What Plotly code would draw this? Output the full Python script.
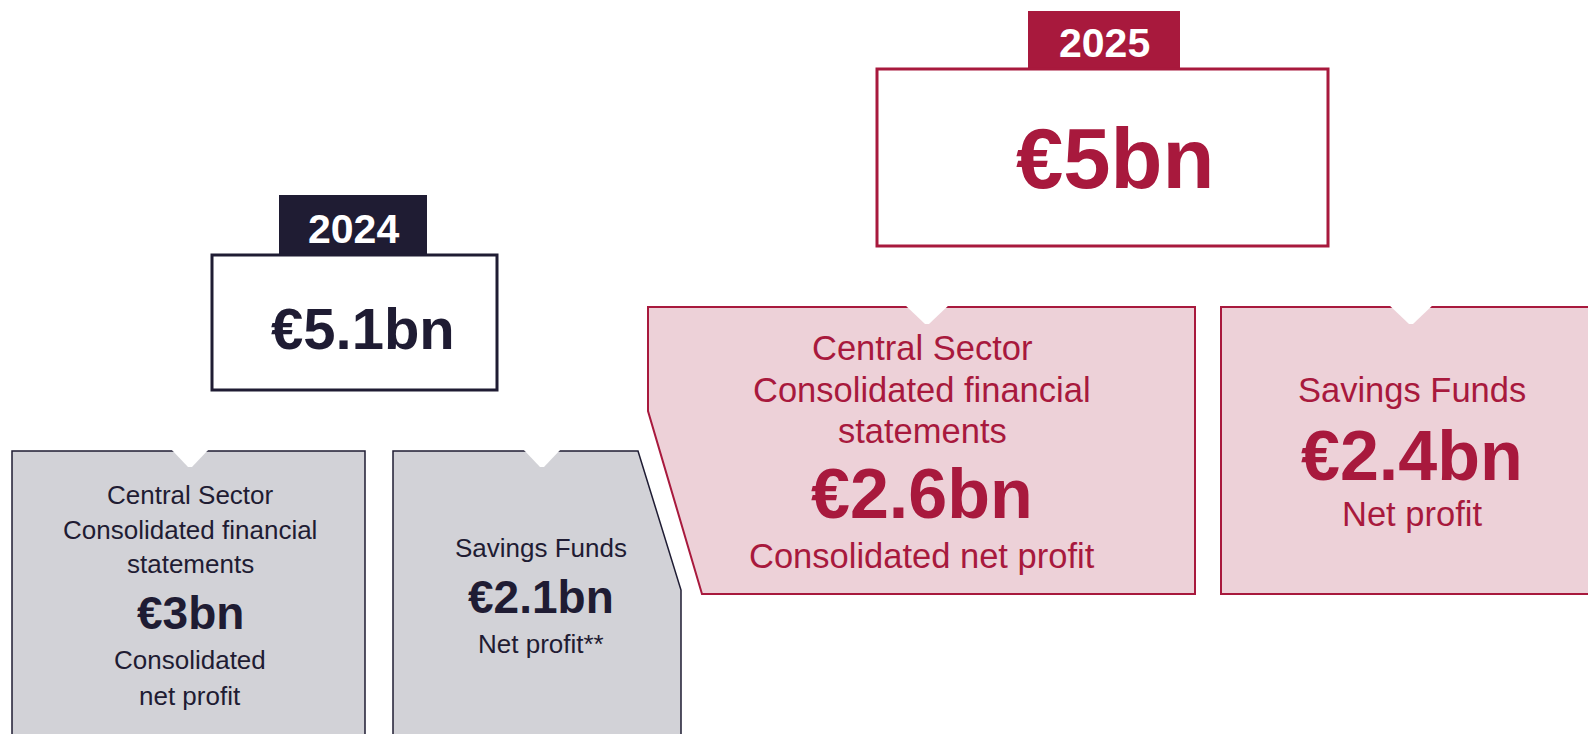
import plotly.graph_objects as go

# ---------------- data ----------------
years = ["2024", "2025"]
totals = ["€5.1bn", "€5bn"]
segment_titles = [
    ["Central Sector", "Consolidated financial", "statements"],
    ["Savings Funds"],
    ["Central Sector", "Consolidated financial", "statements"],
    ["Savings Funds"],
]
segment_values = ["€3bn", "€2.1bn", "€2.6bn", "€2.4bn"]
segment_notes = [
    ["Consolidated", "net profit"],
    ["Net profit**"],
    ["Consolidated net profit"],
    ["Net profit"],
]

# ---------------- styles ----------------
NAVY = "#1f1c33"
CRIMSON = "#a8193d"
PINK = "#edd1d8"
GREY = "#d2d2d7"
FONT = "Liberation Sans, Arial, sans-serif"
W, H = 1588, 734

fig = go.Figure()
fig.add_trace(go.Scatter(x=[0, W], y=[0, H], mode="markers",
                         marker=dict(opacity=0), hoverinfo="skip", showlegend=False))

shapes = []
annotations = []


def path(points):
    return "M " + " L ".join(f"{x},{y}" for x, y in points) + " Z"


def poly(points, fill, line, lw):
    shapes.append(dict(type="path", xref="x", yref="y", path=path(points),
                       fillcolor=fill, line=dict(color=line, width=lw), layer="above"))


def notch(cx, top, half=20, depth=16):
    shapes.append(dict(type="path", xref="x", yref="y",
                       path=path([(cx - half, top - 3), (cx + half, top - 3), (cx + 2, top + depth),
                                  (cx - 2, top + depth)]),
                       fillcolor="white", line=dict(width=0), layer="above"))


def text(x, y, s, size, color, bold=False):
    annotations.append(dict(x=x, y=y, xref="x", yref="y", text=(f"<b>{s}</b>" if bold else s),
                            showarrow=False, xanchor="center", yanchor="middle",
                            font=dict(family=FONT, size=size, color=color)))


# ---- 2024 header ----
tab24 = dict(x0=279, x1=427, y0=195, y1=256)
box24 = dict(x0=212, x1=497, y0=255, y1=390)
shapes.append(dict(type="rect", xref="x", yref="y", **tab24, fillcolor=NAVY, line=dict(width=0)))
shapes.append(dict(type="rect", xref="x", yref="y", **box24, fillcolor="white",
                   line=dict(color=NAVY, width=3)))
text(353, 229, years[0], 41, "white", True)
text(363, 328, totals[0], 58, NAVY, True)

# ---- 2025 header ----
tab25 = dict(x0=1028, x1=1180, y0=11, y1=70)
box25 = dict(x0=877, x1=1328, y0=69, y1=246)
shapes.append(dict(type="rect", xref="x", yref="y", **tab25, fillcolor=CRIMSON, line=dict(width=0)))
shapes.append(dict(type="rect", xref="x", yref="y", **box25, fillcolor="white",
                   line=dict(color=CRIMSON, width=3)))
text(1104, 43, years[1], 41, "white", True)
text(1115, 158, totals[1], 85, CRIMSON, True)

# ---- 2024 segment boxes ----
poly([(12, 451), (365, 451), (365, 760), (12, 760)], GREY, NAVY, 1.5)
notch(190, 451)
poly([(393, 451), (638, 451), (681, 590), (681, 760), (393, 760)], GREY, NAVY, 1.5)
notch(542, 451)

# ---- 2025 segment boxes ----
poly([(648, 307), (1195, 307), (1195, 594), (702, 594), (648, 411)], PINK, CRIMSON, 2)
notch(927, 307, 23, 17)
poly([(1221, 307), (1620, 307), (1620, 594), (1221, 594)], PINK, CRIMSON, 2)
notch(1411, 307, 23, 17)

# ---- segment texts ----
seg_layout = [
    dict(cx=190, title_y=[495, 530, 564], value_y=613, note_y=[660, 696],
         ts=26, vs=46, color=NAVY),
    dict(cx=541, title_y=[548], value_y=597, note_y=[644],
         ts=26, vs=46, color=NAVY),
    dict(cx=922, title_y=[348, 390, 431], value_y=494, note_y=[556],
         ts=34.5, vs=70, color=CRIMSON),
    dict(cx=1412, title_y=[390], value_y=456, note_y=[514],
         ts=34.5, vs=70, color=CRIMSON),
]
for i, lay in enumerate(seg_layout):
    for s, y in zip(segment_titles[i], lay["title_y"]):
        text(lay["cx"], y, s, lay["ts"], lay["color"])
    text(lay["cx"], lay["value_y"], segment_values[i], lay["vs"], lay["color"], True)
    for s, y in zip(segment_notes[i], lay["note_y"]):
        text(lay["cx"], y, s, lay["ts"], lay["color"])

fig.update_layout(
    width=W, height=H,
    margin=dict(l=0, r=0, t=0, b=0),
    paper_bgcolor="white", plot_bgcolor="white",
    xaxis=dict(range=[0, W], visible=False, fixedrange=True),
    yaxis=dict(range=[H, 0], visible=False, fixedrange=True),
    shapes=shapes, annotations=annotations,
    showlegend=False,
)
fig.write_html("out.html", config={"displayModeBar": False},
               post_script="document.body.style.margin='0';document.body.style.overflow='hidden';")
